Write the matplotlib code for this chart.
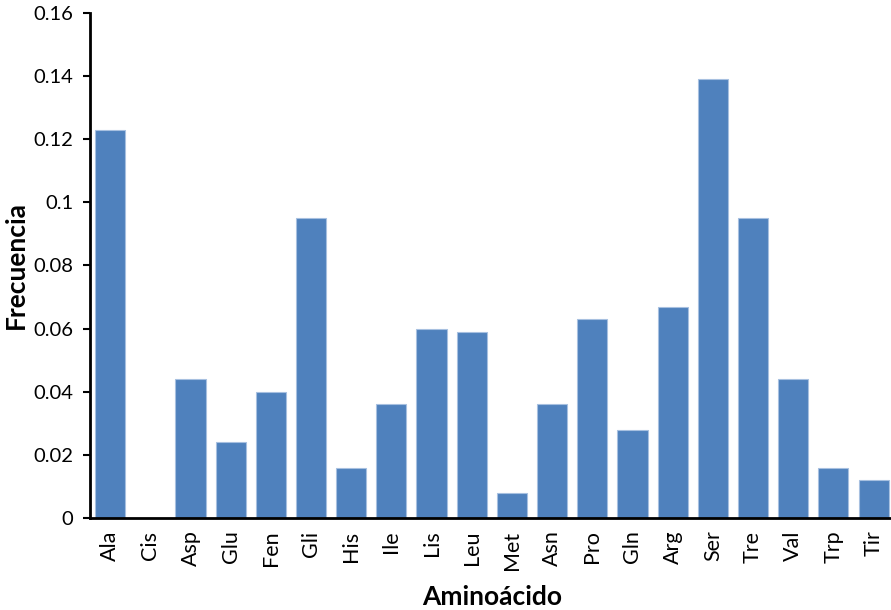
import matplotlib.pyplot as plt

# Frecuencia de cada aminoácido
aminoacidos = ['Ala', 'Cis', 'Asp', 'Glu', 'Fen', 'Gli', 'His', 'Ile', 'Lis', 'Leu',
               'Met', 'Asn', 'Pro', 'Gln', 'Arg', 'Ser', 'Tre', 'Val', 'Trp', 'Tir']
frecuencia = [0.123, 0.0, 0.044, 0.024, 0.040, 0.095, 0.016, 0.036, 0.060, 0.059,
              0.008, 0.036, 0.063, 0.028, 0.067, 0.139, 0.095, 0.044, 0.016, 0.012]

plt.rcParams['font.family'] = ['Lato', 'DejaVu Sans']

fig = plt.figure(figsize=(8.91, 6.10), dpi=100)
ax = fig.add_axes([0.101, 0.1508, 0.902, 0.828])

x = range(len(aminoacidos))
ax.bar(x, frecuencia, width=0.75, color='#4F81BD', edgecolor='#A7C0E0', linewidth=0.8)

ax.set_xlim(-0.5, len(aminoacidos) - 0.5)
ax.set_ylim(0, 0.16)
ax.set_yticks([0, 0.02, 0.04, 0.06, 0.08, 0.1, 0.12, 0.14, 0.16])
ax.set_yticklabels(['0', '0.02', '0.04', '0.06', '0.08', '0.1', '0.12', '0.14', '0.16'])
ax.set_xticks(list(x))
ax.set_xticklabels(aminoacidos, rotation=90)

ax.tick_params(axis='y', direction='out', length=5, width=1.5, labelsize=14.5, pad=7)
ax.tick_params(axis='x', length=0, labelsize=15.5, pad=9)

for side in ['top', 'right']:
    ax.spines[side].set_visible(False)
for side in ['left', 'bottom']:
    ax.spines[side].set_linewidth(2)

ax.set_xlabel('Aminoácido', fontsize=19, fontweight='bold', labelpad=11)
ax.set_ylabel('Frecuencia', fontsize=19, fontweight='bold', labelpad=4)

fig.savefig('out.png', dpi=100)
